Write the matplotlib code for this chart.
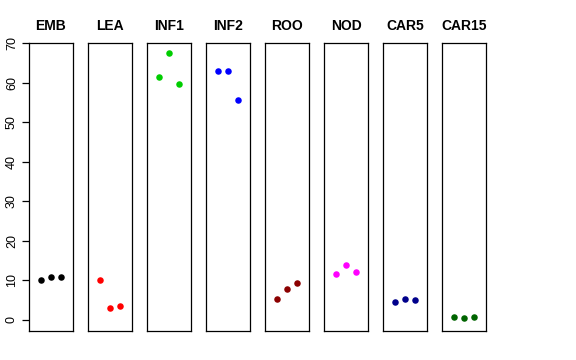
import matplotlib
matplotlib.use('Agg')
import matplotlib.pyplot as plt

plt.rcParams['font.family'] = ['Liberation Sans', 'DejaVu Sans']

tissues = ['EMB', 'LEA', 'INF1', 'INF2', 'ROO', 'NOD', 'CAR5', 'CAR15']
colors = ['black', 'red', '#00CD00', 'blue', '#8B0000', 'magenta', '#00008B', '#006400']
reps = [1, 2, 3]
emb = [10.2, 10.8, 10.8]
lea = [10.2, 3.0, 3.5]
inf1 = [61.5, 67.4, 59.7]
inf2 = [62.9, 62.9, 55.6]
roo = [5.4, 7.8, 9.4]
nod = [11.5, 14.0, 12.2]
car5 = [4.6, 5.3, 5.0]
car15 = [0.7, 0.4, 0.7]
values = [emb, lea, inf1, inf2, roo, nod, car5, car15]
yticks = [0, 10, 20, 30, 40, 50, 60, 70]

fig = plt.figure(figsize=(5.76, 3.6), dpi=100)
W, H = 576, 360
for i, (name, col, vals) in enumerate(zip(tissues, colors, values)):
    left = 29 + 59 * i
    ax = fig.add_axes([left / W, 1 - 331 / H, 44 / W, 288 / H])
    ax.scatter(reps, vals, s=22, color=col, zorder=3, linewidths=0)
    ax.set_xlim(-0.16, 4.16)
    ax.set_ylim(-2.8, 70)
    ax.set_xticks([])
    ax.set_title(name, fontsize=10, fontweight='bold', pad=9)
    for sp in ax.spines.values():
        sp.set_linewidth(0.9)
    if i == 0:
        ax.set_yticks(yticks)
        ax.tick_params(axis='y', length=5, width=0.9, labelsize=9, pad=3)
        for lab in ax.get_yticklabels():
            lab.set_rotation(90)
            lab.set_va('center')
    else:
        ax.set_yticks([])

fig.savefig('out.png', dpi=100)
